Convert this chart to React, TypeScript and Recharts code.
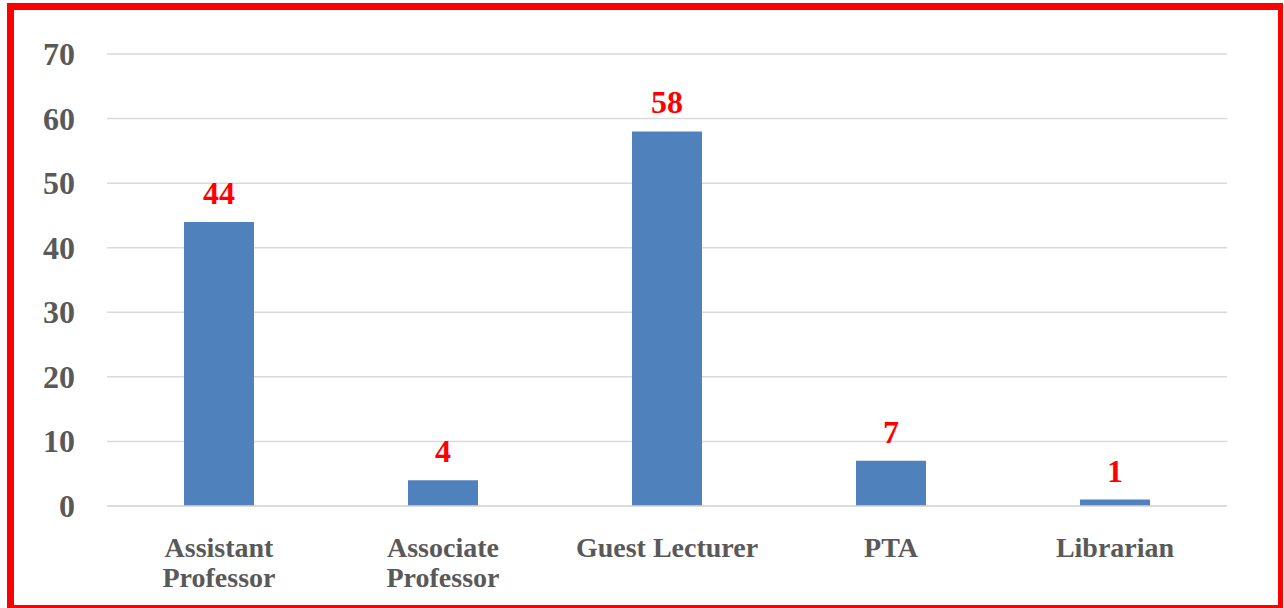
import {BarChart, Bar, CartesianGrid, XAxis, YAxis, LabelList} from "recharts";

const categories = ["Assistant Professor", "Associate Professor", "Guest Lecturer", "PTA", "Librarian"];
const categoryLines = [["Assistant", "Professor"], ["Associate", "Professor"], ["Guest Lecturer"], ["PTA"], ["Librarian"]];
const counts = [44, 4, 58, 7, 1];
const yTicks = [0, 10, 20, 30, 40, 50, 60, 70];

const data = categories.map((name, i) => ({name, count: counts[i], lines: categoryLines[i]}));

const FONT = "'Liberation Serif', serif";

const YTick = ({x, y, payload}: any) => (
    <text x={75} y={y + 11} textAnchor="end" fill="#595959" fontFamily={FONT} fontWeight="bold" fontSize={32}>
        {payload.value}
    </text>
)

const XTick = ({x, payload, index}: any) => {
    const lines = categoryLines[index] ?? [payload.value];
    return (
        <text x={x} y={557} textAnchor="middle" fill="#595959" fontFamily={FONT} fontWeight="bold" fontSize={28}>
            {lines.map((l: string, i: number) => (
                <tspan key={i} x={x} y={557 + i * 30}>{l}</tspan>
            ))}
        </text>
    )
}

const ValueLabel = ({x, y, width, value}: any) => (
    <text x={x + width / 2} y={y - 18} textAnchor="middle" fill="#ff0000" fontFamily={FONT} fontWeight="bold" fontSize={32}>
        {value}
    </text>
)

export default function App() {
    return (
        <div style={{position: "fixed", left: 0, top: 0, width: 1284, height: 608, background: "#fff"}}>
            <BarChart width={1284} height={608} data={data} margin={{top: 54, right: 57, bottom: 0, left: 0}}>
                <CartesianGrid vertical={false} stroke="#d9d9d9" strokeWidth={1.5} />
                <XAxis dataKey="name" height={102} interval={0} tickLine={false} axisLine={{stroke: "#d9d9d9", strokeWidth: 1.5}} tick={<XTick />} />
                <YAxis width={107} domain={[0, 70]} ticks={yTicks} tickLine={false} axisLine={false} tick={<YTick />} />
                <Bar dataKey="count" fill="#4f81bd" barSize={70} isAnimationActive={false}>
                    <LabelList dataKey="count" content={<ValueLabel />} />
                </Bar>
            </BarChart>
            <div style={{
                position: "absolute", left: 7, top: 3, width: 1276, height: 605, boxSizing: "border-box",
                borderStyle: "solid", borderColor: "#ff0000", borderWidth: "7px 5px 3px 7px", pointerEvents: "none"
            }} />
        </div>
    )
}
